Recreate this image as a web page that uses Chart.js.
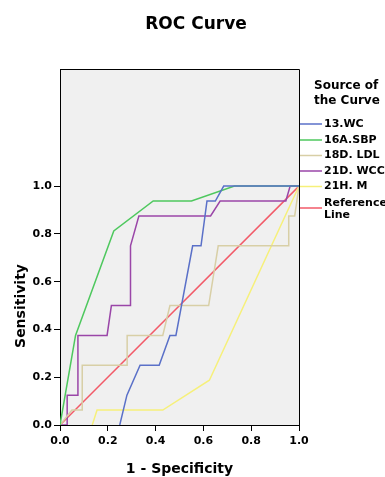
<!DOCTYPE html>
<html>
<head>
<meta charset="utf-8">
<script src="https://cdn.jsdelivr.net/npm/chart.js@4.4.0/dist/chart.umd.min.js"></script>
<style>
  html, body { margin: 0; padding: 0; background: #fff; }
  #wrap { width: 385px; height: 477px; }
</style>
</head>
<body>
<div id="wrap"><canvas id="roc"></canvas></div>
<script>
// ROC data (x = 1 - specificity, y = sensitivity)
const seriesNames = ["13.WC", "16A.SBP", "18D. LDL", "21D. WCC", "21H. M", "Reference Line"];
const seriesColors = ["#5a70c8", "#4ec85e", "#d8cfa6", "#9a46a8", "#f6f07a", "#f25a68"];

const wcX = [0.25, 0.28, 0.335, 0.415, 0.46, 0.485, 0.555, 0.59, 0.615, 0.65, 0.685, 1];
const wcY = [0, 0.125, 0.25, 0.25, 0.375, 0.375, 0.75, 0.75, 0.9375, 0.9375, 1, 1];

const sbpX = [0, 0.065, 0.225, 0.39, 0.55, 0.73, 1];
const sbpY = [0, 0.375, 0.8125, 0.9375, 0.9375, 1, 1];

const ldlX = [0, 0.05, 0.093, 0.093, 0.281, 0.281, 0.43, 0.46, 0.622, 0.662, 0.957, 0.957, 0.982, 1];
const ldlY = [0, 0.0625, 0.0625, 0.25, 0.25, 0.375, 0.375, 0.5, 0.5, 0.75, 0.75, 0.875, 0.875, 1];

const wccX = [0, 0.03, 0.03, 0.075, 0.075, 0.197, 0.215, 0.295, 0.295, 0.33, 0.63, 0.67, 0.945, 0.963, 1];
const wccY = [0, 0, 0.125, 0.125, 0.375, 0.375, 0.5, 0.5, 0.75, 0.875, 0.875, 0.9375, 0.9375, 1, 1];

const hmX = [0.135, 0.155, 0.43, 0.625, 1];
const hmY = [0, 0.0625, 0.0625, 0.1875, 1];

const refX = [0, 1];
const refY = [0, 1];

const xTicks = [0, 0.2, 0.4, 0.6, 0.8, 1.0];
const yTicks = [0, 0.2, 0.4, 0.6, 0.8, 1.0];

const seriesX = [wcX, sbpX, ldlX, wccX, hmX, refX];
const seriesY = [wcY, sbpY, ldlY, wccY, hmY, refY];

function pts(xs, ys) {
  return xs.map((x, i) => ({ x: x, y: ys[i] }));
}

const FONT = "'DejaVu Sans', 'Liberation Sans', Arial, sans-serif";
Chart.defaults.font.family = FONT;
Chart.defaults.color = "#000";

// background, frame, titles and the legend on the right
const decor = {
  id: "decor",
  beforeDraw(chart) {
    const { ctx, chartArea: a } = chart;
    ctx.save();
    ctx.fillStyle = "#f0f0f0";
    ctx.fillRect(a.left, a.top, a.right - a.left, a.bottom - a.top);
    ctx.restore();
  },
  afterDraw(chart) {
    const { ctx, chartArea: a } = chart;
    ctx.save();
    ctx.strokeStyle = "#000";
    ctx.lineWidth = 1;
    ctx.beginPath();
    ctx.moveTo(a.left, a.top + 0.5);
    ctx.lineTo(a.right + 0.5, a.top + 0.5);
    ctx.lineTo(a.right + 0.5, a.bottom);
    ctx.stroke();

    ctx.fillStyle = "#000";
    ctx.textAlign = "center";
    ctx.textBaseline = "middle";
    ctx.font = "bold 17px " + FONT;
    ctx.fillText("ROC Curve", 196, 25);

    ctx.font = "bold 14px " + FONT;
    ctx.fillText("1 - Specificity", (a.left + a.right) / 2, 469);

    ctx.save();
    ctx.translate(21, 306);
    ctx.rotate(-Math.PI / 2);
    ctx.fillText("Sensitivity", 0, 0);
    ctx.restore();

    // legend
    ctx.textAlign = "left";
    ctx.font = "bold 12px " + FONT;
    ctx.fillText("Source of", 314, 86);
    ctx.fillText("the Curve", 314, 101);

    ctx.font = "bold 11px " + FONT;
    const rows = [124, 140, 155.5, 171, 186.5, 208];
    chart.data.datasets.forEach((ds, i) => {
      const y = rows[i];
      ctx.strokeStyle = ds.borderColor;
      ctx.lineWidth = 1.5;
      ctx.beginPath();
      ctx.moveTo(300, y);
      ctx.lineTo(322, y);
      ctx.stroke();
      ctx.fillStyle = "#000";
      if (ds.label === "Reference Line") {
        ctx.fillText("Reference", 324, y - 5);
        ctx.fillText("Line", 324, y + 7);
      } else {
        ctx.fillText(ds.label, 324, y);
      }
    });
    ctx.restore();
  }
};

new Chart(document.getElementById("roc"), {
  type: "line",
  data: {
    datasets: seriesNames.map((name, i) => ({
      label: name,
      data: pts(seriesX[i], seriesY[i]),
      borderColor: seriesColors[i],
      borderWidth: 1.5,
      pointRadius: 0,
      tension: 0,
      fill: false
    }))
  },
  options: {
    responsive: true,
    maintainAspectRatio: false,
    animation: false,
    layout: { padding: { top: 69, right: 86, left: 0, bottom: 0 } },
    plugins: {
      legend: { display: false },
      title: { display: false },
      tooltip: { enabled: false }
    },
    scales: {
      x: {
        type: "linear",
        min: 0,
        max: 1,
        afterBuildTicks: s => { s.ticks = xTicks.map(v => ({ value: v })); },
        afterFit: s => { s.height = 52; },
        ticks: {
          callback: v => v.toFixed(1),
          font: { size: 11, weight: "bold" },
          padding: 4,
          maxRotation: 0
        },
        grid: { drawOnChartArea: false, drawTicks: true, tickLength: 6, color: "#000" },
        border: { color: "#000", width: 1 }
      },
      y: {
        type: "linear",
        min: 0,
        max: 1.49,
        afterBuildTicks: s => { s.ticks = yTicks.map(v => ({ value: v })); },
        afterFit: s => { s.width = 60; },
        ticks: {
          callback: v => v.toFixed(1),
          font: { size: 11, weight: "bold" },
          padding: 2
        },
        grid: { drawOnChartArea: false, drawTicks: true, tickLength: 6, color: "#000" },
        border: { color: "#000", width: 1 }
      }
    }
  },
  plugins: [decor]
});
</script>
</body>
</html>
